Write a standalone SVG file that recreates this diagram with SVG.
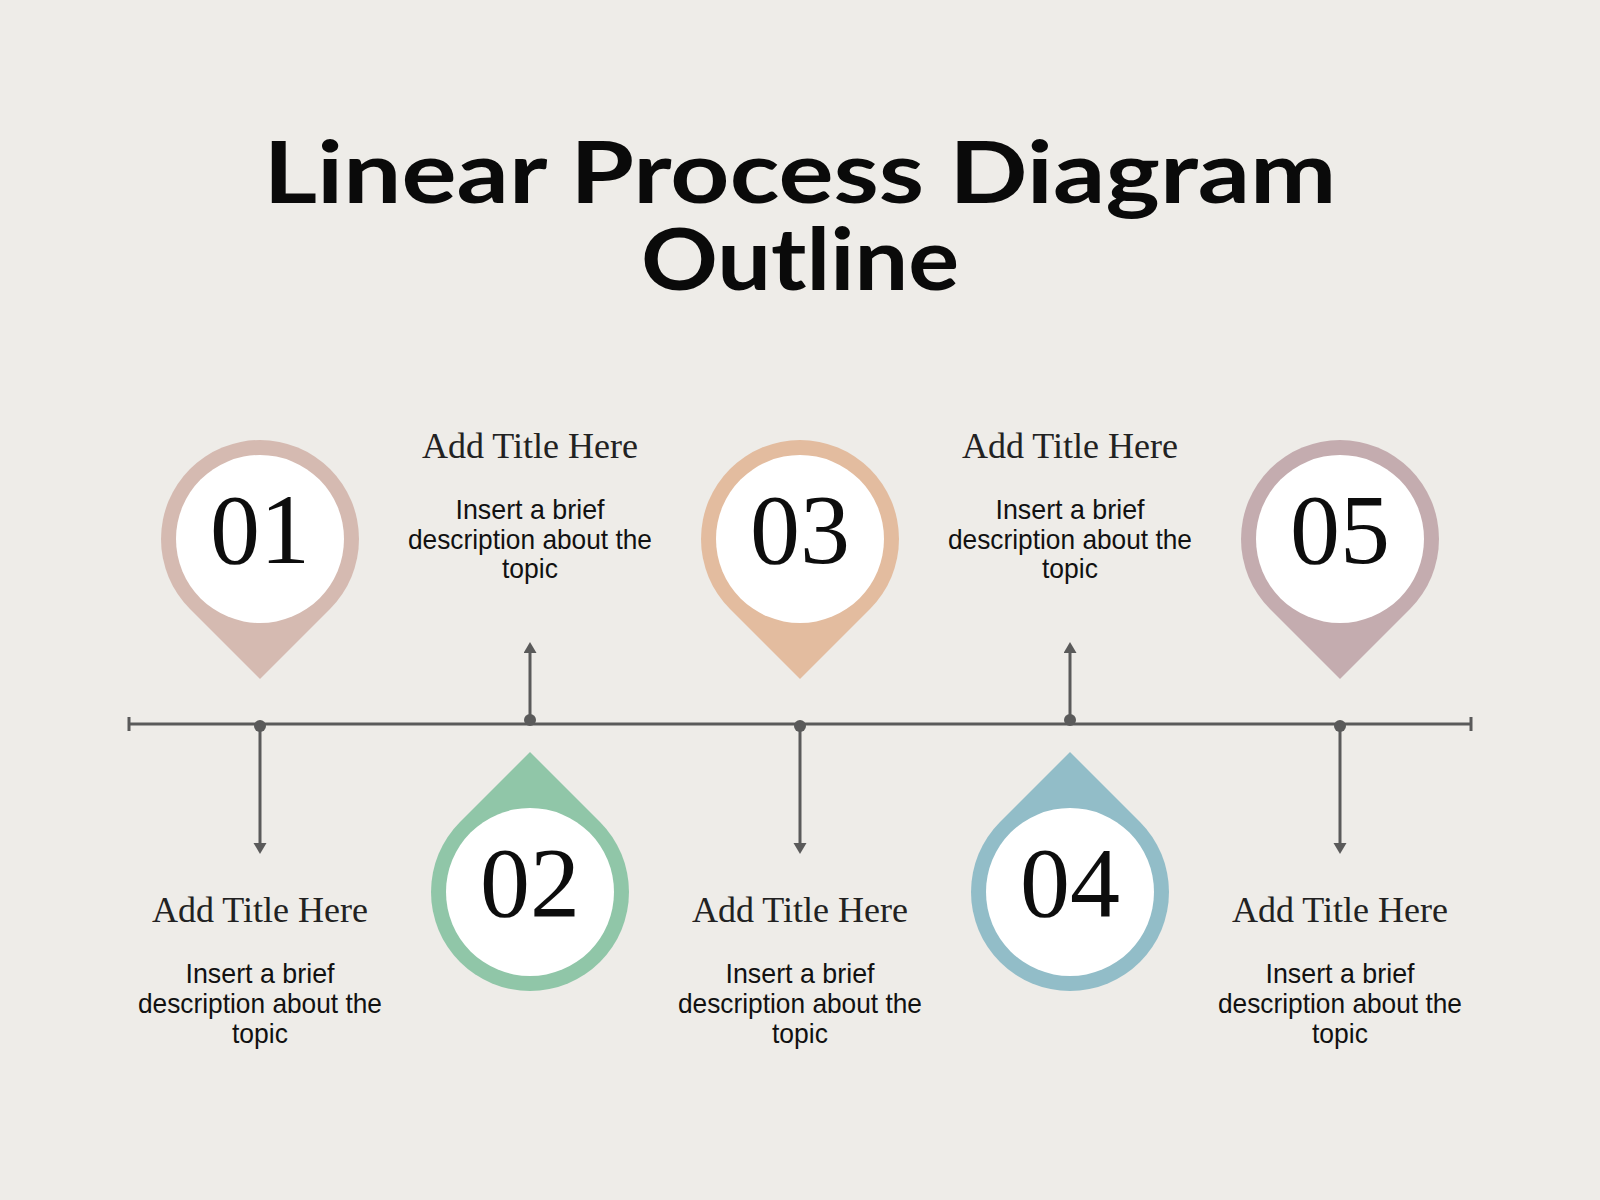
<svg xmlns="http://www.w3.org/2000/svg" xmlns:xlink="http://www.w3.org/1999/xlink" width="1600" height="1200" viewBox="0 0 1600 1200">
  <style>
    .title { font-family: "Lato", "Open Sans", "Liberation Sans", sans-serif; font-weight: 700; font-size: 87px; fill: #0a0a0a; text-anchor: middle; }
    .num { font-family: "Liberation Serif", "DejaVu Serif", serif; font-size: 100px; fill: #0d0d0d; text-anchor: middle; }
    .ttl { font-family: "Liberation Serif", "DejaVu Serif", serif; font-size: 36px; fill: #222222; text-anchor: middle; }
    .desc { font-family: "Liberation Sans", "Arial", sans-serif; font-size: 28px; fill: #111111; text-anchor: middle; }
    .inner { fill: #ffffff; }
    .conn { stroke: #5a5a5a; stroke-width: 3; fill: none; }
    .dot { fill: #5a5a5a; }
  </style>
  <defs>
    <path id="pinDown" d="M0,140 L-70,70 A99,99 0 1 1 70,70 Z"/>
    <path id="pinUp" d="M0,-140 L70,-70 A99,99 0 1 1 -70,-70 Z"/>
    <marker id="arrow" markerUnits="userSpaceOnUse" markerWidth="12" markerHeight="14" refX="0" refY="6.5" orient="auto">
      <path d="M0,0 L11,6.5 L0,13 Z" fill="#5a5a5a"/>
    </marker>
  </defs>

  <rect x="0" y="0" width="1600" height="1200" fill="#eeece8"/>

  <g id="title">
    <text class="title" x="800" y="203" textLength="1073" lengthAdjust="spacingAndGlyphs">Linear Process Diagram</text>
    <text class="title" x="800" y="290" textLength="318" lengthAdjust="spacingAndGlyphs">Outline</text>
  </g>

  <g id="connectors">
    <line class="conn" x1="129" y1="724" x2="1471" y2="724"/>
    <line class="conn" x1="129" y1="717" x2="129" y2="731"/>
    <line class="conn" x1="1471" y1="717" x2="1471" y2="731"/>
    <circle class="dot" cx="260" cy="726" r="6"/>
    <circle class="dot" cx="530" cy="720" r="6"/>
    <circle class="dot" cx="800" cy="726" r="6"/>
    <circle class="dot" cx="1070" cy="720" r="6"/>
    <circle class="dot" cx="1340" cy="726" r="6"/>
    <line class="conn" x1="260" y1="726" x2="260" y2="843" marker-end="url(#arrow)"/>
    <line class="conn" x1="800" y1="726" x2="800" y2="843" marker-end="url(#arrow)"/>
    <line class="conn" x1="1340" y1="726" x2="1340" y2="843" marker-end="url(#arrow)"/>
    <line class="conn" x1="530" y1="720" x2="530" y2="653" marker-end="url(#arrow)"/>
    <line class="conn" x1="1070" y1="720" x2="1070" y2="653" marker-end="url(#arrow)"/>
  </g>

  <g id="step1">
    <use xlink:href="#pinDown" href="#pinDown" x="260" y="539" fill="#d5bab1"/>
    <circle class="inner" cx="260" cy="539" r="84"/>
    <text class="num" x="260" y="563">01</text>
    <text class="ttl" x="260" y="922">Add Title Here</text>
    <text class="desc" x="260" y="983" textLength="149" lengthAdjust="spacingAndGlyphs">Insert a brief</text>
    <text class="desc" x="260" y="1013" textLength="244" lengthAdjust="spacingAndGlyphs">description about the</text>
    <text class="desc" x="260" y="1043" textLength="56" lengthAdjust="spacingAndGlyphs">topic</text>
  </g>

  <g id="step2">
    <use xlink:href="#pinUp" href="#pinUp" x="530" y="892" fill="#90c6a8"/>
    <circle class="inner" cx="530" cy="892" r="84"/>
    <text class="num" x="530" y="916">02</text>
    <text class="ttl" x="530" y="458">Add Title Here</text>
    <text class="desc" x="530" y="519" textLength="149" lengthAdjust="spacingAndGlyphs">Insert a brief</text>
    <text class="desc" x="530" y="549" textLength="244" lengthAdjust="spacingAndGlyphs">description about the</text>
    <text class="desc" x="530" y="578" textLength="56" lengthAdjust="spacingAndGlyphs">topic</text>
  </g>

  <g id="step3">
    <use xlink:href="#pinDown" href="#pinDown" x="800" y="539" fill="#e3bc9f"/>
    <circle class="inner" cx="800" cy="539" r="84"/>
    <text class="num" x="800" y="563">03</text>
    <text class="ttl" x="800" y="922">Add Title Here</text>
    <text class="desc" x="800" y="983" textLength="149" lengthAdjust="spacingAndGlyphs">Insert a brief</text>
    <text class="desc" x="800" y="1013" textLength="244" lengthAdjust="spacingAndGlyphs">description about the</text>
    <text class="desc" x="800" y="1043" textLength="56" lengthAdjust="spacingAndGlyphs">topic</text>
  </g>

  <g id="step4">
    <use xlink:href="#pinUp" href="#pinUp" x="1070" y="892" fill="#92bdc8"/>
    <circle class="inner" cx="1070" cy="892" r="84"/>
    <text class="num" x="1070" y="916">04</text>
    <text class="ttl" x="1070" y="458">Add Title Here</text>
    <text class="desc" x="1070" y="519" textLength="149" lengthAdjust="spacingAndGlyphs">Insert a brief</text>
    <text class="desc" x="1070" y="549" textLength="244" lengthAdjust="spacingAndGlyphs">description about the</text>
    <text class="desc" x="1070" y="578" textLength="56" lengthAdjust="spacingAndGlyphs">topic</text>
  </g>

  <g id="step5">
    <use xlink:href="#pinDown" href="#pinDown" x="1340" y="539" fill="#c4acaf"/>
    <circle class="inner" cx="1340" cy="539" r="84"/>
    <text class="num" x="1340" y="563">05</text>
    <text class="ttl" x="1340" y="922">Add Title Here</text>
    <text class="desc" x="1340" y="983" textLength="149" lengthAdjust="spacingAndGlyphs">Insert a brief</text>
    <text class="desc" x="1340" y="1013" textLength="244" lengthAdjust="spacingAndGlyphs">description about the</text>
    <text class="desc" x="1340" y="1043" textLength="56" lengthAdjust="spacingAndGlyphs">topic</text>
  </g>
</svg>
